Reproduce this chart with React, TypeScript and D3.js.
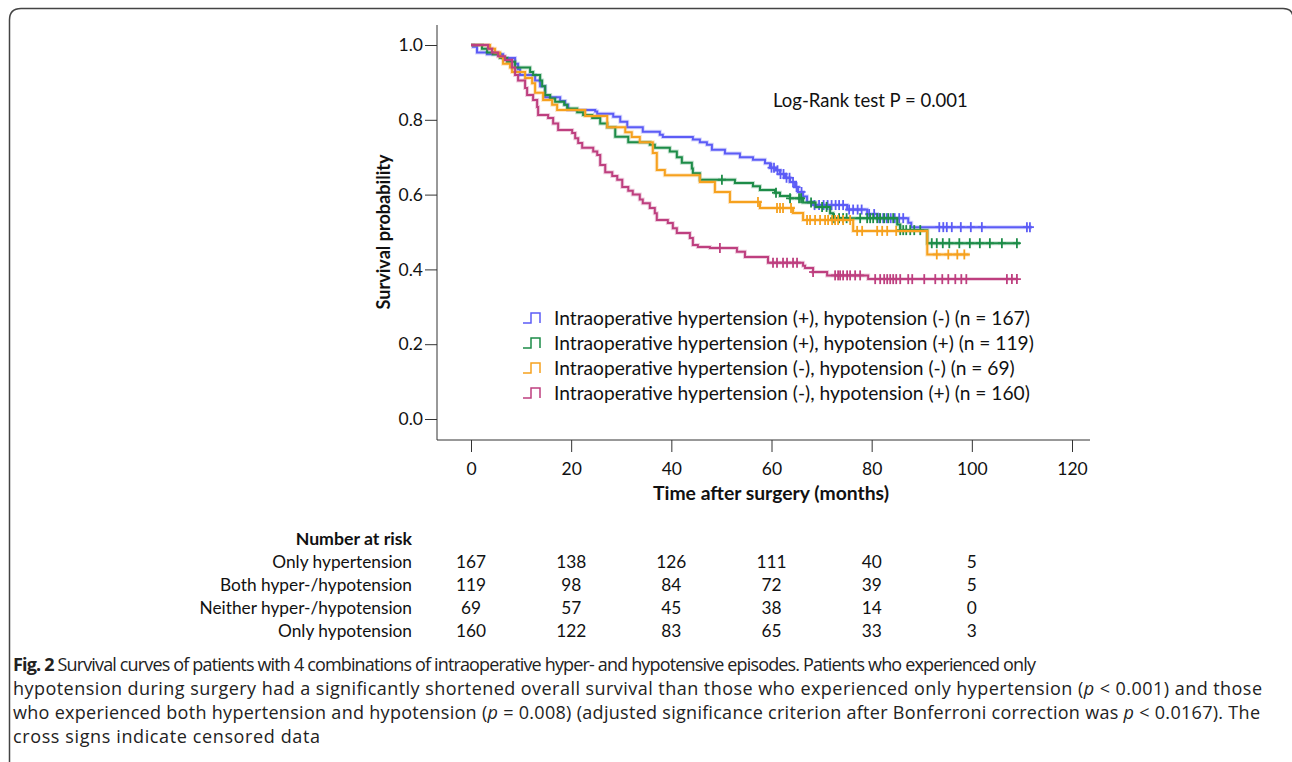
import React, { useEffect, useRef } from 'react';
import * as d3 from 'd3';

// Kaplan-Meier steps: [month, survival]
const hyperOnlySteps: [number, number][] = [
  [0, 1], [0.4, 0.995], [1.2, 0.98], [3.2, 0.975], [6.4, 0.965], [8.8, 0.95], [9.4, 0.935], [9.8, 0.92],
  [12.8, 0.905], [13.8, 0.89], [14.8, 0.86], [17.8, 0.85], [18.8, 0.84], [19.4, 0.826], [24.8, 0.822],
  [25.2, 0.816], [28.4, 0.808], [29.8, 0.795], [31.2, 0.78], [34.3, 0.768], [37.7, 0.76], [38.3, 0.754],
  [44.3, 0.747], [45.7, 0.74], [47.1, 0.733], [48.1, 0.72], [50.7, 0.71], [53.7, 0.7], [56.3, 0.693],
  [58.7, 0.684], [59.7, 0.672], [60.9, 0.665], [61.7, 0.655], [62.7, 0.645], [63.7, 0.634], [64.7, 0.62],
  [65.3, 0.607], [66.3, 0.595], [67.1, 0.58], [68.3, 0.572], [75.1, 0.56], [79.1, 0.548], [81.1, 0.537],
  [87.3, 0.525], [87.9, 0.513],
];
const hyperOnlyEnd = 112;
const hyperOnlyCensored = [
  60, 60.5, 61.2, 61.8, 62.4, 63, 63.6, 64.3, 65, 66, 68.6, 69.5, 70.4, 71.2, 72, 72.8, 73.5, 74.3, 75.5,
  76.3, 77.2, 78, 79.5, 80.5, 81.5, 82.3, 83, 83.8, 84.6, 85.5, 86.3, 93.5, 94.3, 95, 96, 97.8, 99.8, 102,
  111, 111.6,
];

const bothSteps: [number, number][] = [
  [0, 1], [2.2, 0.99], [3.2, 0.98], [4.4, 0.975], [5.8, 0.965], [7.2, 0.955], [8.8, 0.94], [11.8, 0.928],
  [12.4, 0.92], [13.8, 0.905], [14.2, 0.89], [14.8, 0.866], [15.8, 0.857], [16.8, 0.848], [18.6, 0.84],
  [19.2, 0.83], [21.2, 0.82], [22.4, 0.813], [24.2, 0.805], [25.8, 0.79], [27.2, 0.78], [28.8, 0.755],
  [31.4, 0.74], [35.7, 0.733], [36.7, 0.725], [39.7, 0.715], [41.1, 0.7], [42.1, 0.685], [44.1, 0.67],
  [44.3, 0.657], [45.7, 0.64], [52.7, 0.631], [56.3, 0.622], [57.7, 0.612], [60.7, 0.605], [61.7, 0.596],
  [63.7, 0.59], [66.3, 0.579], [68.8, 0.567], [71.7, 0.55], [72.3, 0.537], [85.1, 0.52], [85.7, 0.505],
  [91.1, 0.47],
];
const bothEnd = 109.6;
const bothCensored = [
  50.1, 60.9, 63.7, 65.5, 65.9, 67.9, 70.1, 71, 72.5, 73.5, 74.3, 75, 77.7, 79.1, 79.7, 80.3, 81.1, 81.7,
  82.5, 83.3, 84.3, 85.7, 86.3, 86.9, 87.7, 88.5, 89.7, 92, 93, 94.2, 95.5, 97.5, 99.6, 101.6, 103.6, 106, 109,
];

const neitherSteps: [number, number][] = [
  [0, 1], [3.8, 0.99], [4.8, 0.98], [5.8, 0.968], [6.4, 0.95], [7.8, 0.94], [8.2, 0.928], [10.8, 0.912],
  [12.2, 0.898], [12.8, 0.872], [14.4, 0.853], [16.2, 0.84], [17.2, 0.826], [22.8, 0.81], [27.2, 0.78],
  [30.8, 0.767], [32.1, 0.754], [33.7, 0.74], [36.3, 0.711], [37.1, 0.666], [38.7, 0.652], [45.7, 0.634],
  [48.7, 0.607], [51.7, 0.58], [57.7, 0.564], [64.3, 0.551], [66.3, 0.532], [76.3, 0.503], [91.1, 0.44],
];
const neitherEnd = 99.6;
const neitherCensored = [
  57.3, 61.1, 61.7, 62.3, 63.9, 67.1, 67.7, 68.7, 69.7, 70.7, 71.3, 72.1, 72.7, 73.3, 74.3, 75.7, 77.1,
  78.1, 81.1, 82.1, 83.1, 84.9, 93, 95.3, 97.1, 98.5,
];

const hypoOnlySteps: [number, number][] = [
  [0, 1], [3.4, 0.99], [4.2, 0.98], [5.4, 0.97], [6.8, 0.96], [8.2, 0.94], [8.8, 0.92], [9.4, 0.905],
  [10.8, 0.885], [11.2, 0.866], [12.4, 0.853], [13.2, 0.834], [13.4, 0.813], [15.4, 0.805], [16.4, 0.79],
  [17.4, 0.773], [20.2, 0.765], [20.8, 0.751], [21.4, 0.738], [22.2, 0.725], [24.4, 0.715], [25.2, 0.706],
  [25.8, 0.679], [26.8, 0.66], [28.2, 0.65], [29.2, 0.64], [30.2, 0.62], [31.4, 0.61], [32.3, 0.6],
  [33.7, 0.587], [34.3, 0.577], [35.7, 0.564], [36.7, 0.55], [37.1, 0.532], [39.3, 0.524], [40.3, 0.51],
  [41.1, 0.497], [43.7, 0.484], [44.3, 0.465], [45.3, 0.46], [47.7, 0.457], [53.1, 0.447], [54.7, 0.433],
  [59.3, 0.418], [66.3, 0.41], [66.7, 0.404], [68.3, 0.393], [71.1, 0.384], [79.3, 0.374],
];
const hypoOnlyEnd = 109.2;
const hypoOnlyCensored = [
  49.7, 60.3, 61.1, 62.3, 63.1, 64.3, 65.1, 68.3, 72.7, 73.3, 73.7, 74.3, 75.1, 75.7, 76.7, 77.7, 80.7,
  81.7, 82.5, 83.1, 83.7, 84.3, 84.9, 85.7, 87.3, 88.1, 90.5, 92.7, 94.1, 95.3, 96.7, 97.9, 98.9, 107, 108, 109,
];

const legendLabels = [
  'Intraoperative hypertension (+), hypotension (-) (n = 167)',
  'Intraoperative hypertension (+), hypotension (+) (n = 119)',
  'Intraoperative hypertension (-), hypotension (-) (n = 69)',
  'Intraoperative hypertension (-), hypotension (+) (n = 160)',
];
const colors = ['#5c5cf6', '#1d8c48', '#f6a11e', '#be3f7f'];

const xTicks = [0, 20, 40, 60, 80, 100, 120];
const yTicks = [0, 0.2, 0.4, 0.6, 0.8, 1.0];

const riskTimes = [0, 20, 40, 60, 80, 100];
const riskLabels = ['Only hypertension', 'Both hyper-/hypotension', 'Neither hyper-/hypotension', 'Only hypotension'];
const riskHyperOnly = [167, 138, 126, 111, 40, 5];
const riskBoth = [119, 98, 84, 72, 39, 5];
const riskNeither = [69, 57, 45, 38, 14, 0];
const riskHypoOnly = [160, 122, 83, 65, 33, 3];

const groups = [
  { steps: hyperOnlySteps, end: hyperOnlyEnd, censored: hyperOnlyCensored },
  { steps: bothSteps, end: bothEnd, censored: bothCensored },
  { steps: neitherSteps, end: neitherEnd, censored: neitherCensored },
  { steps: hypoOnlySteps, end: hypoOnlyEnd, censored: hypoOnlyCensored },
];
const riskRows = [riskHyperOnly, riskBoth, riskNeither, riskHypoOnly];

const chartFont = 'Lato, "Open Sans", sans-serif';
const captionFont = '"Open Sans", sans-serif';

const survivalAt = (steps: [number, number][], t: number) => {
  let s = steps[0][1];
  for (const [ti, si] of steps) {
    if (ti <= t) s = si;
  }
  return s;
};

const App = () => {
  const xAxisRef = useRef<SVGGElement>(null);
  const yAxisRef = useRef<SVGGElement>(null);

  const x = d3.scaleLinear().domain([0, 120]).range([471, 1072]);
  const y = d3.scaleLinear().domain([0, 1]).range([419, 45]);
  const axisLeft = 437;
  const axisBottom = 440;

  const line = d3.line<[number, number]>()
    .x(d => x(d[0]))
    .y(d => y(d[1]))
    .curve(d3.curveStepAfter);

  useEffect(() => {
    const xAxis = d3.select(xAxisRef.current);
    xAxis.selectAll('*').remove();
    xAxis.call(d3.axisBottom(x).tickValues(xTicks).tickSize(12).tickSizeOuter(0).tickFormat(d3.format('d')) as any);
    xAxis.select('.domain').remove();
    xAxis.selectAll('line').attr('stroke', '#333');
    xAxis.selectAll('text')
      .attr('font-family', chartFont).attr('font-size', 17.5).attr('fill', '#111').attr('dy', '1.15em');

    const yAxis = d3.select(yAxisRef.current);
    yAxis.selectAll('*').remove();
    yAxis.call(d3.axisLeft(y).tickValues(yTicks).tickSize(12).tickSizeOuter(0).tickFormat(d3.format('.1f')) as any);
    yAxis.select('.domain').remove();
    yAxis.selectAll('line').attr('stroke', '#333');
    yAxis.selectAll('text')
      .attr('font-family', chartFont).attr('font-size', 17.5).attr('fill', '#111').attr('x', -14);
  }, []);

  return (
    <svg width={1292} height={762} style={{ position: 'absolute', left: 0, top: 0, background: '#fff' }}>
      <path d="M 9.5 762 V 20 Q 9.5 8.5 21 8.5 H 1283 Q 1293 8.5 1293 18 V 762" fill="none" stroke="#444" strokeWidth={1.5} />

      {/* axes frame */}
      <line x1={axisLeft} x2={axisLeft} y1={25} y2={axisBottom} stroke="#333" />
      <line x1={axisLeft} x2={1090} y1={axisBottom} y2={axisBottom} stroke="#333" />
      <g ref={xAxisRef} transform={`translate(0,${axisBottom})`} />
      <g ref={yAxisRef} transform={`translate(${axisLeft},0)`} />

      {/* curves */}
      {groups.map((g, i) => {
        const pts: [number, number][] = [...g.steps, [g.end, g.steps[g.steps.length - 1][1]]];
        return (
          <g key={i}>
            <path d={line(pts) || ''} fill="none" stroke={colors[i]} strokeOpacity={0.25} strokeWidth={4} />
            <path d={line(pts) || ''} fill="none" stroke={colors[i]} strokeWidth={2} />
            {g.censored.map((t, j) => {
              const cx = x(t);
              const cy = y(survivalAt(g.steps, t));
              return (
                <g key={j} stroke={colors[i]} strokeWidth={1.8}>
                  <line x1={cx} x2={cx} y1={cy - 5} y2={cy + 5} />
                  <line x1={cx - 4} x2={cx + 4} y1={cy} y2={cy} />
                </g>
              );
            })}
          </g>
        );
      })}

      <text x={773} y={107} fontFamily={chartFont} fontSize={18.5} fill="#111">Log-Rank test P = 0.001</text>

      {/* legend */}
      {legendLabels.map((label, i) => {
        const ly = 318 + i * 25;
        return (
          <g key={i}>
            <path d={`M 523 ${ly + 5} H 531 V ${ly - 5} H 540 V ${ly + 5}`} fill="none" stroke={colors[i]} strokeWidth={1.5} />
            <text x={554} y={ly + 6.5} fontFamily={chartFont} fontSize={19.2} fill="#111">{label}</text>
          </g>
        );
      })}

      {/* axis titles */}
      <text x={771} y={500} textAnchor="middle" fontFamily={chartFont} fontSize={19} fontWeight="bold" fill="#111"
        textLength={236} lengthAdjust="spacingAndGlyphs">
        Time after surgery (months)
      </text>
      <text transform="translate(390,232) rotate(-90)" textAnchor="middle" fontFamily={chartFont} fontSize={18.5} fontWeight="bold" fill="#111"
        textLength={155} lengthAdjust="spacingAndGlyphs">
        Survival probability
      </text>

      {/* number at risk */}
      <text x={412} y={545} textAnchor="end" fontFamily={chartFont} fontSize={17.7} fontWeight="bold" fill="#111">Number at risk</text>
      {riskLabels.map((label, i) => (
        <g key={i}>
          <text x={412} y={568 + i * 23} textAnchor="end" fontFamily={chartFont} fontSize={17.3} fill="#111">{label}</text>
          {riskRows[i].map((n, j) => (
            <text key={j} x={x(riskTimes[j])} y={568 + i * 23} textAnchor="middle" fontFamily={chartFont} fontSize={17.3} fill="#111">{n}</text>
          ))}
        </g>
      ))}

      {/* caption */}
      <g fontFamily={captionFont} fontSize={18} fill="#222">
        <text x={13} y={671} textLength={1023} lengthAdjust="spacing">
          <tspan fontWeight="bold">Fig. 2</tspan> Survival curves of patients with 4 combinations of intraoperative hyper- and hypotensive episodes. Patients who experienced only
        </text>
        <text x={13} y={695} textLength={1249} lengthAdjust="spacing">
          hypotension during surgery had a significantly shortened overall survival than those who experienced only hypertension (<tspan fontStyle="italic">p</tspan> &lt; 0.001) and those
        </text>
        <text x={13} y={719} textLength={1247} lengthAdjust="spacing">
          who experienced both hypertension and hypotension (<tspan fontStyle="italic">p</tspan> = 0.008) (adjusted significance criterion after Bonferroni correction was <tspan fontStyle="italic">p</tspan> &lt; 0.0167). The
        </text>
        <text x={13} y={743} textLength={307} lengthAdjust="spacing">cross signs indicate censored data</text>
      </g>
    </svg>
  );
};

export default App;
